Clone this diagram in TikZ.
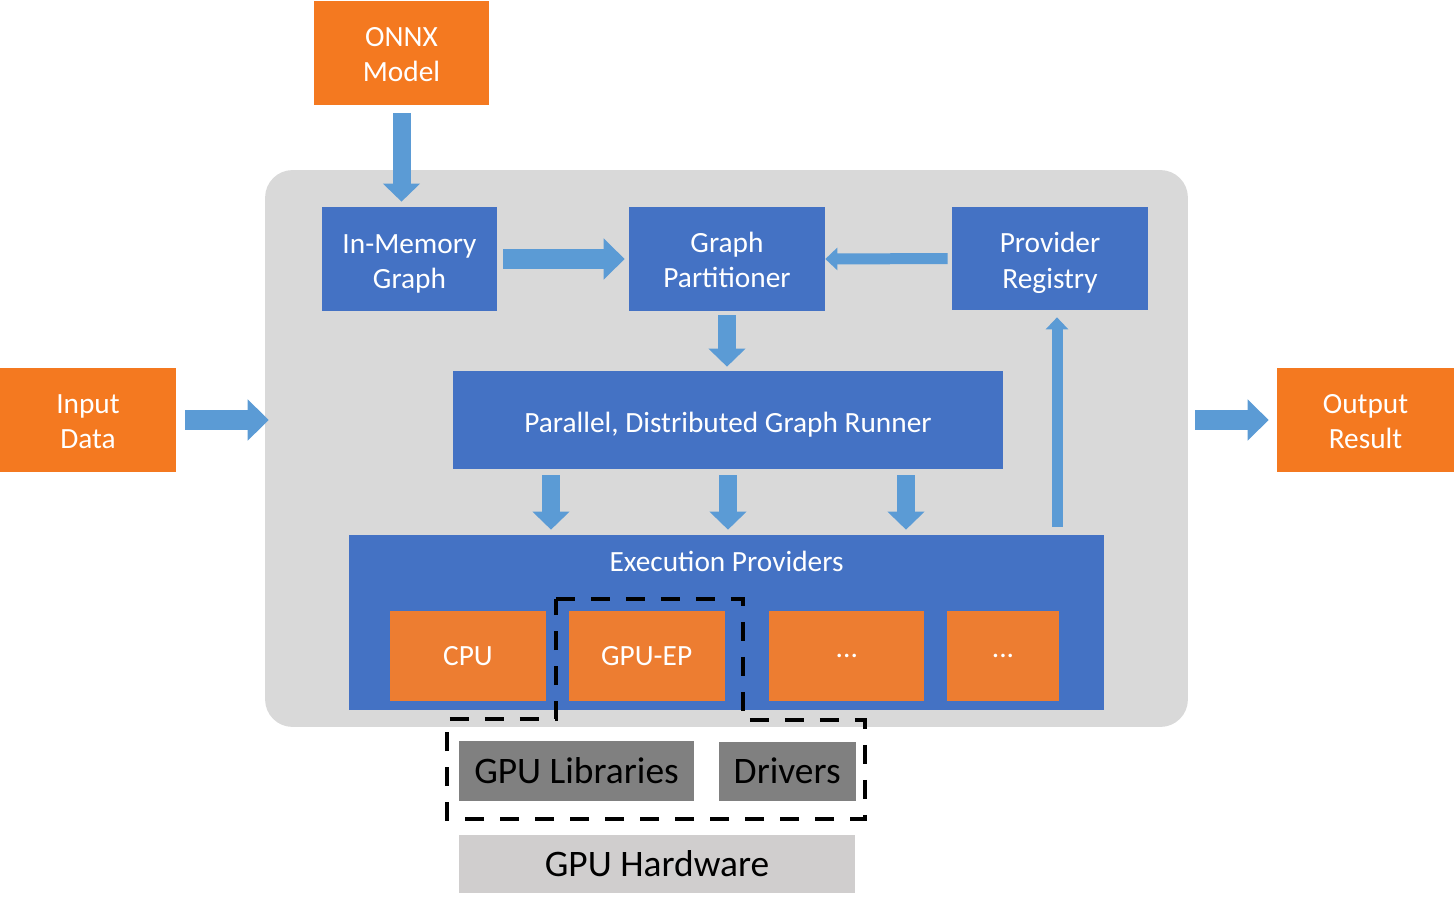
\documentclass[tikz,border=0pt]{standalone}
\usepackage{fontspec}
\setmainfont{Carlito}
\usepackage{xcolor}
\usetikzlibrary{arrows.meta}
\usetikzlibrary{positioning}

\definecolor{toporange}{HTML}{F47920}
\definecolor{eporange}{HTML}{ED7D31}
\definecolor{boxblue}{HTML}{4472C4}
\definecolor{arrowblue}{HTML}{5B9BD5}
\definecolor{coregray}{HTML}{D9D9D9}
\definecolor{libgray}{HTML}{808080}
\definecolor{hwgray}{HTML}{D0CECE}

\tikzset{
	label font/.style={font=\fontsize{16.7}{20}\selectfont},
	textdrop/.style={execute at begin node={\rule{0pt}{#1}}},
	iobox/.style={fill=toporange,text=white,label font,align=center,minimum width=3.5cm,minimum height=2.08cm,inner sep=0pt,textdrop=33pt},
	bluebox/.style={fill=boxblue,text=white,label font,align=center,minimum height=2.08cm,inner sep=0pt},
	epslot/.style={fill=eporange,text=white,label font,minimum width=3.12cm,minimum height=1.8cm,inner sep=0pt},
	stackbox/.style={text=black,font=\fontsize{21.3}{25}\selectfont,minimum height=1.2cm,inner sep=0pt},
	bigarrow/.style={draw=arrowblue,line width=0.4cm,-{Triangle[width=0.8cm,length=0.42cm]}},
	midarrow/.style={draw=arrowblue,line width=0.36cm,-{Triangle[width=0.72cm,length=0.36cm]}},
	thinarrow/.style={draw=arrowblue,line width=0.22cm,-{Triangle[width=0.44cm,length=0.24cm]}}
}

\begin{document}
\begin{tikzpicture}[x=0.02cm,y=-0.02cm]
		\useasboundingbox (0,0) rectangle (1454,910);
		%Runtime core
			\node[fill=coregray,rounded corners=0.55cm,minimum width=18.46cm,minimum height=11.14cm] (core) at (726.5,448.5) {};
		%Inputs and outputs
			\node[iobox] (onnx) at (401.5,53) {ONNX\\Model};
			\node[iobox,minimum width=3.52cm] (input) at (88,420) {Input\\Data};
			\node[iobox,minimum width=3.54cm] (output) at (1365.5,420) {Output\\Result};
		%Graph stages
			\node[bluebox,minimum width=3.5cm,textdrop=36.5pt] (mem) at (409.5,259) {In-Memory\\Graph};
			\node[bluebox,minimum width=3.92cm,textdrop=33pt] (part) at (727,259) {Graph\\Partitioner};
			\node[bluebox,minimum width=3.92cm,minimum height=2.06cm,textdrop=36.6pt] (reg) at (1050,258.5) {Provider\\Registry};
			\node[bluebox,minimum width=11cm,minimum height=1.96cm,textdrop=16.8pt] (runner) at (728,420) {Parallel, Distributed Graph Runner};
		%Execution providers
			\node[fill=boxblue,minimum width=15.1cm,minimum height=3.5cm] (ep) at (726.5,622.5) {};
			\node[text=white,label font] (eptitle) at (726.5,561) {Execution Providers};
			\node[epslot] (cpu) at (468,656) {CPU};
			\node[epslot,right=0.44cm of cpu] (gpuep) {GPU-EP};
			\node[epslot,minimum width=3.1cm,right=0.88cm of gpuep] (dotsa) {...};
			\node[epslot,minimum width=2.24cm,right=0.44cm of dotsa] (dotsb) {...};
		%GPU stack
			\node[stackbox,fill=libgray,minimum width=4.7cm] (libs) at (576.5,771) {GPU Libraries};
			\node[stackbox,fill=libgray,minimum width=2.74cm,minimum height=1.18cm,right=0.48cm of libs] (drivers) {Drivers};
			\node[stackbox,fill=hwgray,minimum width=7.92cm,minimum height=1.16cm] (hw) at (657,864) {GPU Hardware};
		%Dashed outline
			\draw[black,line width=0.08cm,dash pattern=on 0.38cm off 0.32cm]
				(556,599) -- (743,599) -- (743,720) -- (865,720) -- (865,819) -- (447,819) -- (447,719) -- (556,719) -- cycle;
		%Arrows
			\draw[midarrow,shorten <=0.16cm,shorten >=0.1cm] (onnx.south) -- (onnx.south |- mem.north);
			\draw[bigarrow,shorten <=0.12cm,shorten >=0.08cm] (mem.east) -- (part.west);
			\draw[thinarrow,shorten <=0.08cm] (reg.west) -- (part.east);
			\draw[midarrow,shorten <=0.08cm,shorten >=0.08cm] (part.south) -- (part.south |- runner.north);
			\foreach \x in {551,728,906}
			{
				\draw[midarrow,shorten <=0.12cm,shorten >=0.1cm] (\x,0 |- runner.south) -- (\x,0 |- ep.north);
			}
			\draw[thinarrow,shorten <=0.16cm,shorten >=0.14cm] (1057,0 |- ep.north) -- (1057,0 |- reg.south);
			\draw[bigarrow,shorten <=0.18cm,shorten >=-0.08cm] (input.east) -- (input.east -| core.west);
			\draw[bigarrow,shorten <=0.14cm,shorten >=0.16cm] (core.east |- output.west) -- (output.west);
	\end{tikzpicture}
\end{document}
